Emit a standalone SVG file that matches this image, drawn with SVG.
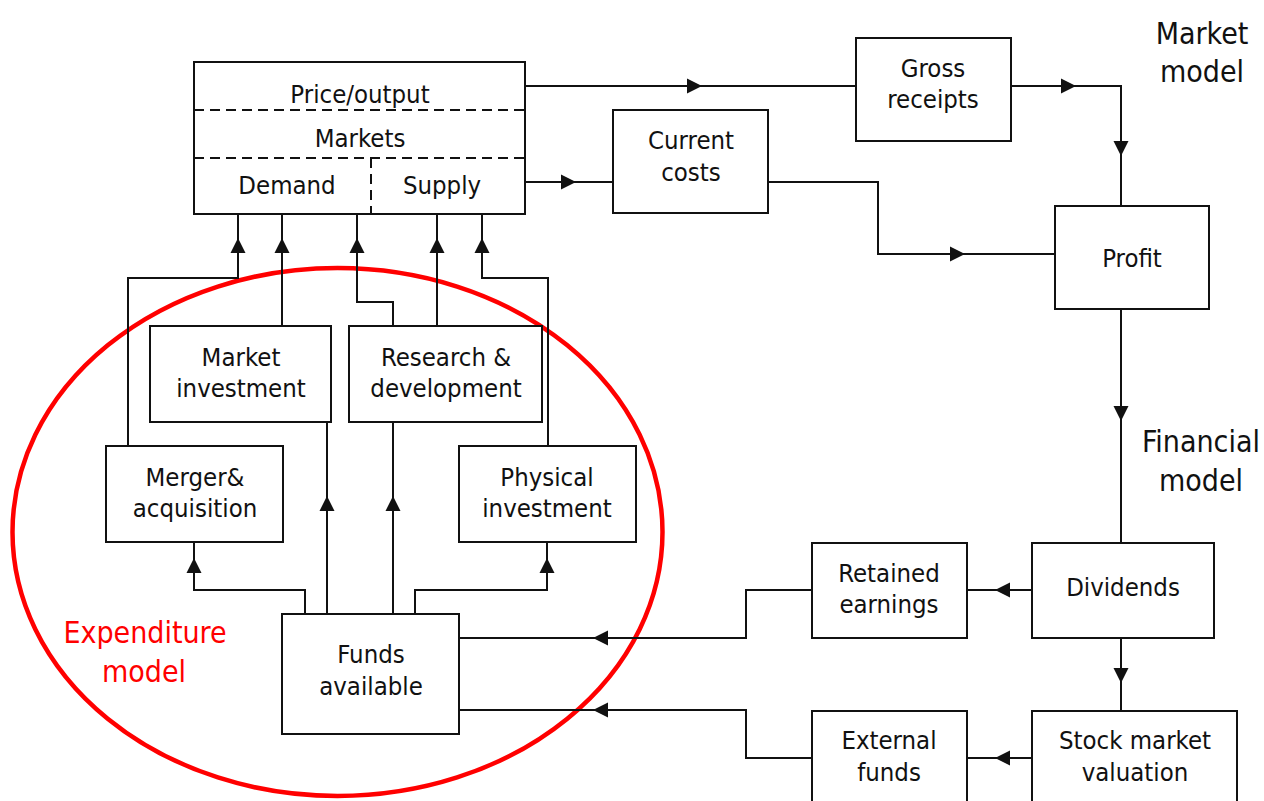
<svg xmlns="http://www.w3.org/2000/svg" xmlns:xlink="http://www.w3.org/1999/xlink" width="1264" height="801" viewBox="0 0 1264 801">
<style>
.box{fill:#fff;stroke:#111;stroke-width:2}
.ln{fill:none;stroke:#111;stroke-width:2}
.dash{fill:none;stroke:#111;stroke-width:2;stroke-dasharray:10 6}
text{font-family:"DejaVu Sans Condensed","DejaVu Sans",sans-serif;font-stretch:condensed;fill:#111;text-anchor:middle}
.t{font-size:25.5px}
.big{font-size:30px}
.red{font-size:30px;fill:#f00}
</style>
<defs>
<polygon id="ah" points="0,0 -15,-7.5 -15,7.5" fill="#111"/>
</defs>
<rect width="1264" height="801" fill="#fff"/>
<ellipse cx="337.5" cy="532" rx="325" ry="264" fill="none" stroke="#f00" stroke-width="4.5"/>
<g id="connectors">
<path class="ln" d="M525,86 H856"/><use xlink:href="#ah" transform="translate(702,86)"/>
<path class="ln" d="M525,182 H613"/><use xlink:href="#ah" transform="translate(576,182)"/>
<path class="ln" d="M768,182 H878 V254 H1055"/><use xlink:href="#ah" transform="translate(965,254)"/>
<path class="ln" d="M1011,86 H1121 V206"/><use xlink:href="#ah" transform="translate(1076,86)"/><use xlink:href="#ah" transform="translate(1121,156) rotate(90)"/>
<path class="ln" d="M1121,309 V543"/><use xlink:href="#ah" transform="translate(1121,421) rotate(90)"/>
<path class="ln" d="M1032,590 H967"/><use xlink:href="#ah" transform="translate(995,590) rotate(180)"/>
<path class="ln" d="M1121,638 V711"/><use xlink:href="#ah" transform="translate(1121,683) rotate(90)"/>
<path class="ln" d="M1032,758 H967"/><use xlink:href="#ah" transform="translate(995,758) rotate(180)"/>
<path class="ln" d="M812,590 H746 V638 H459"/><use xlink:href="#ah" transform="translate(593,638) rotate(180)"/>
<path class="ln" d="M812,758 H746 V710 H459"/><use xlink:href="#ah" transform="translate(593,710) rotate(180)"/>
<path class="ln" d="M305,614 V590 H194 V542"/><use xlink:href="#ah" transform="translate(194,558) rotate(-90)"/>
<path class="ln" d="M327,614 V422"/><use xlink:href="#ah" transform="translate(327,496) rotate(-90)"/>
<path class="ln" d="M393,614 V422"/><use xlink:href="#ah" transform="translate(393,496) rotate(-90)"/>
<path class="ln" d="M415,614 V590 H547 V542"/><use xlink:href="#ah" transform="translate(547,558) rotate(-90)"/>
<path class="ln" d="M128,446 V278 H238 V214"/><use xlink:href="#ah" transform="translate(238,238) rotate(-90)"/>
<path class="ln" d="M282,326 V214"/><use xlink:href="#ah" transform="translate(282,238) rotate(-90)"/>
<path class="ln" d="M393,326 V302 H357 V214"/><use xlink:href="#ah" transform="translate(357,238) rotate(-90)"/>
<path class="ln" d="M437,326 V214"/><use xlink:href="#ah" transform="translate(437,238) rotate(-90)"/>
<path class="ln" d="M548,446 V278 H482 V214"/><use xlink:href="#ah" transform="translate(482,238) rotate(-90)"/>
</g>
<g id="markets">
<rect class="box" x="194" y="62" width="331" height="152"/>
<path class="dash" d="M194,110 H525 M194,158 H525 M371,158 V214"/>
<text class="t" x="360" y="103">Price/output</text>
<text class="t" x="360" y="147">Markets</text>
<text class="t" x="287" y="194">Demand</text>
<text class="t" x="442" y="194">Supply</text>
</g>
<g id="gross"><rect class="box" x="856" y="38" width="155" height="103"/><text class="t" x="933" y="77">Gross</text><text class="t" x="933" y="108">receipts</text></g>
<g id="current"><rect class="box" x="613" y="110" width="155" height="103"/><text class="t" x="691" y="149">Current</text><text class="t" x="691" y="181">costs</text></g>
<g id="profit"><rect class="box" x="1055" y="206" width="154" height="103"/><text class="t" x="1132" y="267">Profit</text></g>
<g id="market-inv"><rect class="box" x="150" y="326" width="181" height="96"/><text class="t" x="241" y="366">Market</text><text class="t" x="241" y="397">investment</text></g>
<g id="rnd"><rect class="box" x="349" y="326" width="193" height="96"/><text class="t" x="446" y="366">Research &amp;</text><text class="t" x="446" y="397">development</text></g>
<g id="merger"><rect class="box" x="106" y="446" width="177" height="96"/><text class="t" x="195" y="486">Merger&amp;</text><text class="t" x="195" y="517">acquisition</text></g>
<g id="physical"><rect class="box" x="459" y="446" width="177" height="96"/><text class="t" x="547" y="486">Physical</text><text class="t" x="547" y="517">investment</text></g>
<g id="funds"><rect class="box" x="282" y="614" width="177" height="120"/><text class="t" x="371" y="663">Funds</text><text class="t" x="371" y="695">available</text></g>
<g id="dividends"><rect class="box" x="1032" y="543" width="182" height="95"/><text class="t" x="1123" y="596">Dividends</text></g>
<g id="retained"><rect class="box" x="812" y="543" width="155" height="95"/><text class="t" x="889" y="582">Retained</text><text class="t" x="889" y="613">earnings</text></g>
<g id="stock"><rect class="box" x="1032" y="711" width="205" height="110"/><text class="t" x="1135" y="749">Stock market</text><text class="t" x="1135" y="781">valuation</text></g>
<g id="external"><rect class="box" x="812" y="711" width="155" height="110"/><text class="t" x="889" y="749">External</text><text class="t" x="889" y="781">funds</text></g>
<g id="labels">
<text class="big" x="1202" y="44">Market</text><text class="big" x="1202" y="82">model</text>
<text class="big" x="1201" y="452">Financial</text><text class="big" x="1201" y="491">model</text>
<text class="red" x="145" y="643">Expenditure</text><text class="red" x="144" y="682">model</text>
</g>
</svg>
